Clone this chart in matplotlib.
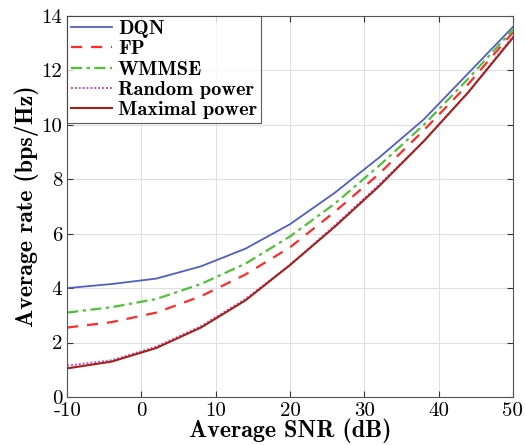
import matplotlib
matplotlib.use("Agg")
import matplotlib.pyplot as plt

snr = [-10, -4, 2, 8, 14, 20, 26, 32, 38, 44, 50]
dqn = [4.0, 4.15, 4.35, 4.8, 5.45, 6.35, 7.5, 8.8, 10.2, 11.9, 13.6]
fp = [2.55, 2.75, 3.1, 3.7, 4.5, 5.5, 6.8, 8.2, 9.8, 11.5, 13.4]
wmmse = [3.1, 3.3, 3.6, 4.15, 4.9, 5.9, 7.1, 8.5, 10.0, 11.7, 13.5]
random_power = [1.15, 1.35, 1.85, 2.6, 3.6, 4.85, 6.3, 7.8, 9.4, 11.2, 13.25]
max_power = [1.05, 1.3, 1.8, 2.55, 3.55, 4.85, 6.25, 7.75, 9.4, 11.2, 13.2]

plt.rcParams['font.family'] = ['cmr10', 'DejaVu Serif']
plt.rcParams['axes.unicode_minus'] = False

fig = plt.figure(figsize=(5.25, 4.45), dpi=100)
ax = fig.add_axes([0.128, 0.108, 0.849, 0.856])

ax.plot(snr, dqn, c="#4f5fc4", lw=1.3, label="DQN")
ax.plot(snr, fp, c="#ff2a2a", lw=1.6, ls=(0, (5, 4)), label="FP")
ax.plot(snr, wmmse, c="#4fc23a", lw=1.6, ls=(0, (5, 2, 1.5, 2)), label="WMMSE")
ax.plot(snr, random_power, c="#c84fc8", lw=1.4, ls=(0, (1, 1)), label="Random power")
ax.plot(snr, max_power, c="#a2221a", lw=1.5, label="Maximal power")

ax.set_xlim(-10, 50)
ax.set_ylim(0, 14)
ax.set_xticks(range(-10, 51, 10))
ax.set_xticklabels([str(v) for v in range(-10, 51, 10)])
ax.set_yticks(range(0, 15, 2))
ax.grid(True, color="#e0e0e0", lw=0.8)
ax.tick_params(direction="in", top=True, right=True, labelsize=15, length=4, color="#333333")
for s in ax.spines.values():
    s.set_color("#555555")
    s.set_linewidth(0.8)

ax.set_xlabel("Average SNR (dB)", fontsize=17.3, family="cmb10", labelpad=-1)
ax.set_ylabel("Average rate (bps/Hz)", fontsize=17.3, family="cmb10", labelpad=2)

leg = ax.legend(loc="upper left", prop={'family': 'cmb10', 'size': 14.6},
                fancybox=False, edgecolor="#333333", borderaxespad=0,
                handlelength=2.0, handletextpad=0.3, labelspacing=0.1, borderpad=0.2)
leg.get_frame().set_linewidth(0.8)

fig.savefig("out.png", dpi=100)
